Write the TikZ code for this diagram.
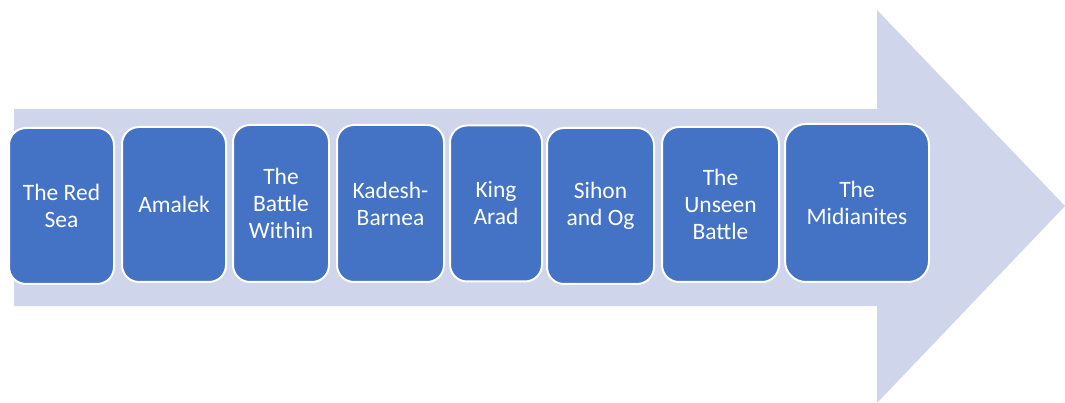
\documentclass[tikz,border=0pt]{standalone}
\usepackage{fontspec}
\setmainfont{Carlito}
\definecolor{bandfill}{HTML}{CFD5EA}
\definecolor{stageblue}{HTML}{4472C4}
\begin{document}
\begin{tikzpicture}[x=1pt, y=-1pt,
	stage/.style={draw=white, line width=2pt, fill=stageblue, rounded corners=17pt,
		text=white, align=center, inner sep=0pt, font=\fontsize{23.5}{27}\selectfont}]
		\useasboundingbox (0,0) rectangle (1065,403);
		\fill[bandfill] (14,109) -- (877,109) -- (877,10) -- (1065,206) -- (877,403) -- (877,306) -- (14,306) -- cycle;

		\node[stage, minimum width=105, minimum height=156] (redsea) at (61.5,206) {The Red\\Sea};
		\node[stage, minimum width=104, minimum height=155] (amalek) at (174,204.5) {Amalek};
		\node[stage, minimum width=96, minimum height=157] (within) at (281,203.5) {The\\Battle\\Within};
		\node[stage, minimum width=107, minimum height=157] (kadesh) at (390.5,203.5) {Kadesh-\\Barnea};
		\node[stage, minimum width=92, minimum height=156] (arad) at (496,203.5) {King\\Arad};
		\node[stage, minimum width=107, minimum height=156] (sihon) at (600.5,206) {Sihon\\and Og};
		\node[stage, minimum width=117, minimum height=155] (unseen) at (720.5,204.5) {The\\Unseen\\Battle};
		\node[stage, minimum width=144, minimum height=158, rounded corners=21pt] (midian) at (857,203) {The\\Midianites};
	\end{tikzpicture}
\end{document}
